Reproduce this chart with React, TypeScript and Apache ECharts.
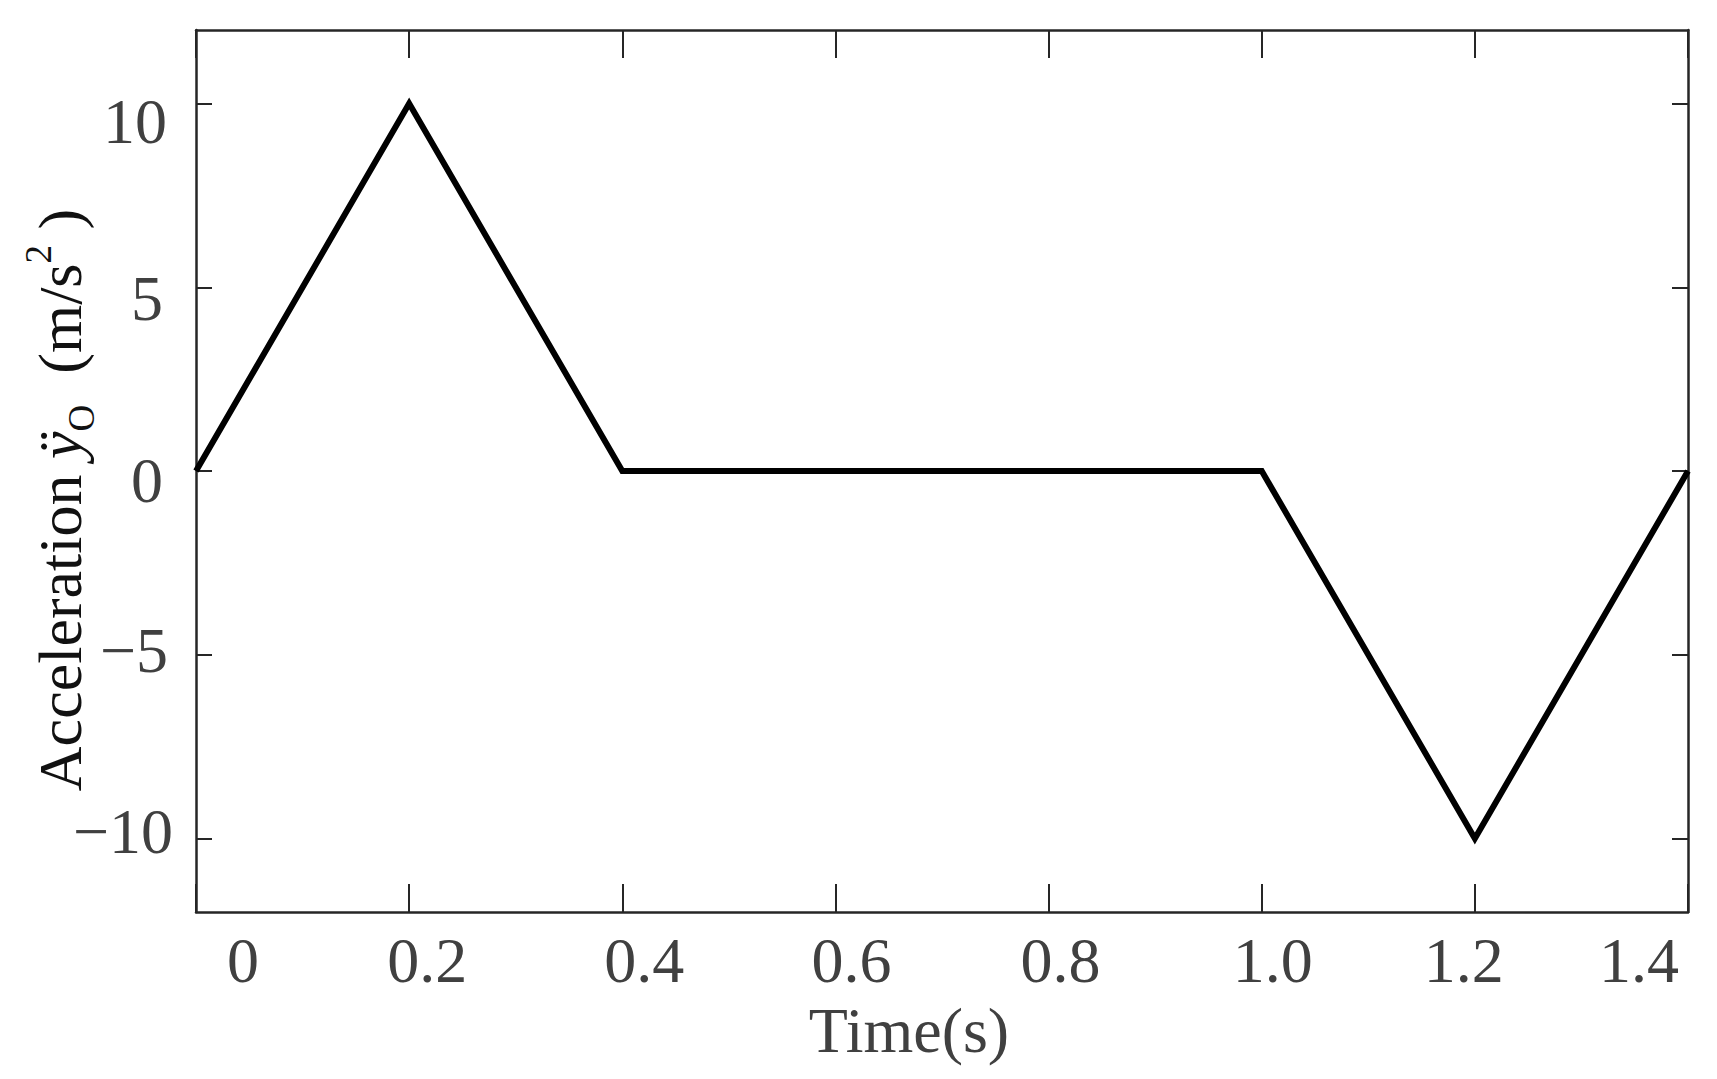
import React, { useEffect, useRef } from "react";
import * as echarts from "echarts";

// ---- data ----
const timeValues = [0, 0.2, 0.4, 1.0, 1.2, 1.4];
const accelValues = [0, 10, 0, 0, -10, 0];
const xTicks = [0, 0.2, 0.4, 0.6, 0.8, 1.0, 1.2, 1.4];
const yTicks = [-10, -5, 0, 5, 10];
const xAxisTitle = "Time(s)";

// ---- styles (label nudges as in the original figure) ----
const FONT = "'Liberation Serif', 'Times New Roman', serif";
const LABEL_COLOR = "#404040";
const FS = 64;
// horizontal shift (px, +right) of each x tick label
const xLabelShift = [47, 18, 22, 16, 12, 11, -11, -49];
// vertical shift (px, +down) and extra right padding of each y tick label
const yLabelShift: Record<string, [number, number]> = {
  "10": [18, 6],
  "5": [11, 10],
  "0": [9, 10],
  "-5": [-4, 5],
  "-10": [-7, 0],
};

function App() {
  const ref = useRef<HTMLDivElement>(null);

  useEffect(() => {
    if (!ref.current) return;
    const chart = echarts.init(ref.current, null, { renderer: "svg" });

    const xRich: Record<string, any> = {};
    xTicks.forEach((_, i) => {
      const d = xLabelShift[i];
      xRich["x" + i] = {
        fontSize: FS,
        fontFamily: FONT,
        color: LABEL_COLOR,
        padding: d >= 0 ? [0, 0, 0, 2 * d] : [0, -2 * d, 0, 0],
      };
    });
    const yRich: Record<string, any> = {};
    yTicks.forEach((v) => {
      const [dy, pr] = yLabelShift[String(v)];
      yRich["y" + String(v).replace("-", "n")] = {
        fontSize: FS,
        fontFamily: FONT,
        color: LABEL_COLOR,
        padding: dy >= 0 ? [2 * dy, pr, 0, 0] : [0, pr, -2 * dy, 0],
      };
    });

    const axisLineStyle = { color: "#262626", width: 2.5 };
    const tickStyle = { color: "#262626", width: 2 };

    const titleBase = { fontSize: 62, fontFamily: FONT, color: "#111", lineHeight: 80 };

    chart.setOption({
      animation: false,
      backgroundColor: "#ffffff",
      grid: {
        left: 196,
        right: 29,
        top: 30,
        bottom: 167,
        containLabel: false,
        outerBoundsMode: "none",
      },
      xAxis: [
        {
          type: "value",
          position: "bottom",
          min: 0,
          max: 1.4,
          interval: 0.2,
          splitLine: { show: false },
          axisLine: { show: true, onZero: false, lineStyle: axisLineStyle },
          axisTick: { show: true, inside: true, length: 28, lineStyle: tickStyle },
          axisLabel: {
            show: true,
            margin: 16,
            showMinLabel: true,
            showMaxLabel: true,
            fontSize: FS,
            fontFamily: FONT,
            color: LABEL_COLOR,
            formatter: (v: number) => {
              const i = Math.round(v * 5);
              const t = v === 0 ? "0" : v.toFixed(1);
              return `{x${i}|${t}}`;
            },
            rich: xRich,
          },
          name: `{n|${xAxisTitle}}`,
          nameLocation: "middle",
          nameGap: 86,
          nameTextStyle: {
            rich: {
              n: {
                fontSize: 64,
                fontFamily: FONT,
                color: LABEL_COLOR,
                padding: [0, 66, 0, 0],
              },
            },
          },
        },
        {
          type: "value",
          position: "top",
          min: 0,
          max: 1.4,
          interval: 0.2,
          splitLine: { show: false },
          axisLine: { show: true, onZero: false, lineStyle: axisLineStyle },
          axisTick: { show: true, inside: true, length: 28, lineStyle: tickStyle },
          axisLabel: { show: false },
        },
      ],
      yAxis: [
        {
          type: "value",
          position: "left",
          min: -12,
          max: 12,
          interval: 1,
          splitLine: { show: false },
          axisLine: { show: true, onZero: false, lineStyle: axisLineStyle },
          axisTick: {
            show: true,
            inside: true,
            length: 16,
            lineStyle: tickStyle,
            customValues: yTicks,
          },
          axisLabel: {
            show: true,
            margin: 23,
            customValues: yTicks,
            fontSize: FS,
            fontFamily: FONT,
            color: LABEL_COLOR,
            formatter: (v: number) => {
              const t = v < 0 ? "\u2212" + Math.abs(v) : String(v);
              return `{y${String(v).replace("-", "n")}|${t}}`;
            },
            rich: yRich,
          },
          name:
            "{t|Acceleration }{i|\u00ff}{sub|O}{t|  (m/s}{sup|2}{end| )}",
          nameLocation: "middle",
          nameRotate: 90,
          nameGap: 96,
          nameMoveOverlap: false,
          nameTextStyle: {
            rich: {
              t: titleBase,
              i: { ...titleBase, fontStyle: "italic" },
              end: { ...titleBase, padding: [0, 58, 0, 0] },
              sub: {
                fontSize: 37,
                fontFamily: FONT,
                color: "#111",
                lineHeight: 40,
                verticalAlign: "bottom",
              },
              sup: {
                fontSize: 37,
                fontFamily: FONT,
                color: "#111",
                lineHeight: 40,
                verticalAlign: "top",
              },
            },
          },
        },
        {
          type: "value",
          position: "right",
          min: -12,
          max: 12,
          interval: 1,
          splitLine: { show: false },
          axisLine: { show: true, onZero: false, lineStyle: axisLineStyle },
          axisTick: {
            show: true,
            inside: true,
            length: 16,
            lineStyle: tickStyle,
            customValues: yTicks,
          },
          axisLabel: { show: false },
        },
      ],
      series: [
        {
          type: "line",
          xAxisIndex: 0,
          yAxisIndex: 0,
          data: timeValues.map((t, i) => [t, accelValues[i]]),
          showSymbol: false,
          symbol: "none",
          lineStyle: { color: "#000000", width: 6, join: "miter", cap: "butt" },
        },
      ],
    });

    return () => chart.dispose();
  }, []);

  return (
    <div
      ref={ref}
      style={{ position: "fixed", left: 0, top: 0, width: 1717, height: 1079, background: "#fff" }}
    />
  );
}

export default App;
